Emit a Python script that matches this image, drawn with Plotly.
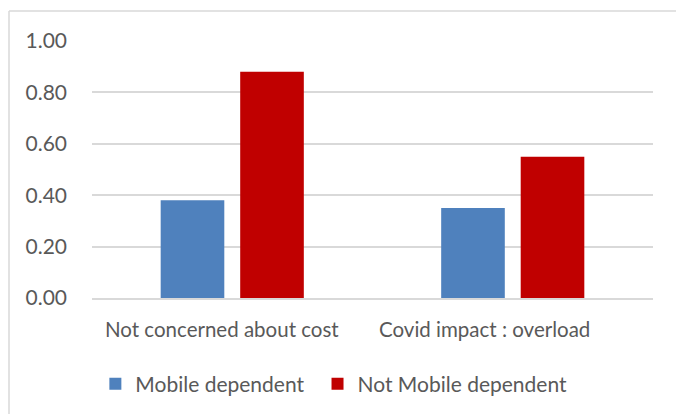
import plotly.graph_objects as go

categories = ["Not concerned about cost", "Covid impact : overload"]
mobile_dependent = [0.38, 0.35]
not_mobile_dependent = [0.88, 0.55]
y_ticks = [0.0, 0.2, 0.4, 0.6, 0.8, 1.0]

FONT = "Lato"
TEXT = "#595959"
GRID = "#d9d9d9"

fig = go.Figure()
fig.add_trace(go.Bar(
    x=categories, y=mobile_dependent, name="Mobile dependent",
    marker=dict(color="#4F81BD", line=dict(width=0)),
    legend="legend",
))
fig.add_trace(go.Bar(
    x=categories, y=not_mobile_dependent, name="Not Mobile dependent",
    marker=dict(color="#C00000", line=dict(width=0)),
    legend="legend2",
))

# category labels drawn as annotations so each can be nudged horizontally
label_shifts = [-10.5, -28.5]
for cat, dx in zip(categories, label_shifts):
    fig.add_annotation(
        x=cat, xref="x", y=0, yref="paper", yanchor="middle", yshift=-31,
        xshift=dx, text=cat, showarrow=False,
        font=dict(family=FONT, size=20.5, color=TEXT),
    )

# legends sit in container coordinates so they don't push the plot margins
legend_style = dict(
    orientation="h", xanchor="left", yref="container", y=1 - 384 / 414,
    yanchor="middle", font=dict(family=FONT, size=21, color=TEXT), itemwidth=30,
)

fig.update_layout(
    width=676, height=414,
    margin=dict(l=92, r=23, t=41, b=116, autoexpand=False),
    paper_bgcolor="white", plot_bgcolor="white",
    barmode="group", bargap=0.433, bargroupgap=0.2,
    font=dict(family=FONT, size=20, color=TEXT),
    showlegend=True,
    legend=dict(x=0.006, **legend_style),
    legend2=dict(x=0.402, **legend_style),
    xaxis=dict(
        showgrid=False, showline=True, linecolor=GRID, linewidth=1.5,
        ticks="", showticklabels=False,
    ),
    yaxis=dict(
        range=[0, 1.0], tickvals=y_ticks, tickformat=".2f",
        showgrid=True, gridcolor=GRID, gridwidth=1.5, zeroline=False,
        showline=False, ticks="", ticklabelstandoff=24,
        tickfont=dict(size=21, color=TEXT),
    ),
    shapes=[
        dict(type="line", xref="paper", yref="paper",
             x0=-83 / 561, x1=-83 / 561, y0=(414 - 116 - 11) / 257, y1=-2,
             line=dict(color=GRID, width=1.5)),
        dict(type="line", xref="paper", yref="paper",
             x0=-83 / 561, x1=2, y0=(414 - 116 - 11) / 257, y1=(414 - 116 - 11) / 257,
             line=dict(color=GRID, width=1.5)),
    ],
)

fig.write_html("out.html")
